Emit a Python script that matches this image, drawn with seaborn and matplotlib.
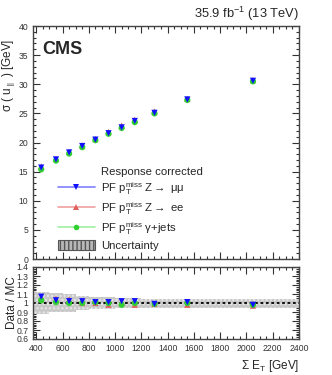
import numpy as np
import pandas as pd
import matplotlib
matplotlib.use("Agg")
import matplotlib.pyplot as plt
from matplotlib.lines import Line2D
from matplotlib.patches import Patch
from matplotlib.ticker import MultipleLocator, FormatStrFormatter
import seaborn as sns

# bin centres in sum E_T [GeV]
sum_et = [437.5, 550, 650, 750, 850, 950, 1050, 1150, 1300, 1550, 2050]

# sigma(u_par) [GeV]
sigma_mumu = [15.7, 17.1, 18.3, 19.4, 20.5, 21.6, 22.6, 23.7, 25.1, 27.4, 30.6]
sigma_ee = [15.9, 17.2, 18.4, 19.5, 20.6, 21.8, 22.9, 23.9, 25.3, 27.5, 30.7]
sigma_gjets = [15.4, 16.9, 18.1, 19.2, 20.4, 21.5, 22.5, 23.5, 25.0, 27.3, 30.5]

# data / MC
ratio_mumu = [1.07, 1.03, 1.02, 1.02, 1.01, 1.01, 1.02, 1.02, 0.99, 1.01, 0.98]
ratio_ee = [1.06, 1.05, 1.04, 1.00, 1.00, 0.98, 1.00, 0.98, 0.99, 0.98, 0.97]
ratio_gjets = [1.03, 1.01, 1.00, 1.00, 1.01, 1.00, 0.98, 1.00, 0.99, 1.00, 0.98]

# uncertainty band per bin
bin_lo = [375, 500, 600, 700, 800, 900, 1000, 1100, 1200, 1400, 1700]
bin_hi = [500, 600, 700, 800, 900, 1000, 1100, 1200, 1400, 1700, 2400]
unc_lo = [0.88, 0.90, 0.90, 0.92, 0.93, 0.93, 0.94, 0.94, 0.95, 0.95, 0.95]
unc_hi = [1.12, 1.11, 1.10, 1.08, 1.07, 1.07, 1.06, 1.06, 1.05, 1.05, 1.05]

colors = {"mumu": "#1010ff", "ee": "#e06060", "gjets": "#30d030"}
line_colors = {"mumu": "#8080ff", "ee": "#f0a0a0", "gjets": "#a0f0a0"}
markers = {"mumu": "v", "ee": "^", "gjets": "o"}

top = pd.DataFrame({
    "x": sum_et * 3,
    "y": sigma_ee + sigma_gjets + sigma_mumu,
    "s": ["ee"] * 11 + ["gjets"] * 11 + ["mumu"] * 11,
})
bot = pd.DataFrame({
    "x": sum_et * 3,
    "y": ratio_ee + ratio_gjets + ratio_mumu,
    "s": ["ee"] * 11 + ["gjets"] * 11 + ["mumu"] * 11,
})

sns.set_style("ticks")
plt.rcParams["font.family"] = ["Liberation Sans", "DejaVu Sans"]
plt.rcParams["mathtext.fontset"] = "custom"
plt.rcParams["mathtext.rm"] = "Liberation Sans"
plt.rcParams["mathtext.it"] = "Liberation Sans"
plt.rcParams["hatch.color"] = "#a0a0a0"

fig = plt.figure(figsize=(3.32, 3.75), dpi=100)
ax1 = fig.add_axes([0.0994, 0.3093, 0.801, 0.6213])
ax2 = fig.add_axes([0.0994, 0.096, 0.801, 0.192])

for ax, df in [(ax1, top), (ax2, bot)]:
    sns.scatterplot(data=df, x="x", y="y", hue="s", style="s",
                    palette=colors, markers=markers, s=20, linewidth=0,
                    legend=False, ax=ax, zorder=3)

# uncertainty band in ratio
widths = np.array(bin_hi) - np.array(bin_lo)
heights = np.array(unc_hi) - np.array(unc_lo)
ax2.bar(bin_lo, heights, width=widths, bottom=unc_lo, align="edge",
        color="#c8c8c8", edgecolor="#e8e8e8", hatch="....", linewidth=0.0, zorder=1)
ax2.axhline(1.0, color="black", linestyle=(0, (1.5, 1.5)), linewidth=1.3, zorder=2)

for ax in (ax1, ax2):
    ax.set_xlim(375, 2400)
    ax.xaxis.set_major_locator(MultipleLocator(200))
    ax.xaxis.set_minor_locator(MultipleLocator(50))
    ax.tick_params(which="both", direction="in", top=True, right=True,
                   labelsize=6.2, colors="#333333", width=0.8)
    ax.tick_params(which="major", length=5)
    ax.tick_params(which="minor", length=2.5)
    for sp in ax.spines.values():
        sp.set_linewidth(1.0)
        sp.set_color("#444444")
    ax.set_xlabel("")
    ax.set_ylabel("")

ax1.set_ylim(0, 40)
ax1.yaxis.set_major_locator(MultipleLocator(5))
ax1.yaxis.set_minor_locator(MultipleLocator(1))
ax1.tick_params(labelbottom=False)
ax1.set_ylabel(r"$\sigma$ ( u$_{\parallel}$ ) [GeV]", fontsize=8.5)

ax2.set_ylim(0.6, 1.4)
ax2.yaxis.set_major_locator(MultipleLocator(0.1))
ax2.yaxis.set_minor_locator(MultipleLocator(0.02))
ax2.yaxis.set_major_formatter(FormatStrFormatter("%g"))
ax2.set_ylabel("Data / MC", fontsize=8.5)
ax2.set_xlabel(r"$\Sigma$ E$_{\rm T}$ [GeV]", fontsize=8.5, loc="right", labelpad=4)

ax1.yaxis.set_label_coords(-0.058, 0.79)
ax2.yaxis.set_label_coords(-0.058, 0.5)

ax1.text(0.035, 0.935, "CMS", transform=ax1.transAxes, fontsize=13,
         fontweight="bold", va="top", ha="left")
ax1.text(1.0, 1.015, r"35.9 fb$^{-1}$ (13 TeV)", transform=ax1.transAxes,
         fontsize=9.3, ha="right", va="bottom")

handles = [
    Line2D([], [], linestyle="none"),
    Line2D([], [], color=line_colors["mumu"], marker="v", markersize=4,
           markerfacecolor=colors["mumu"], markeredgewidth=0, linewidth=1.2),
    Line2D([], [], color=line_colors["ee"], marker="^", markersize=4,
           markerfacecolor=colors["ee"], markeredgewidth=0, linewidth=1.2),
    Line2D([], [], color=line_colors["gjets"], marker="o", markersize=4,
           markerfacecolor=colors["gjets"], markeredgewidth=0, linewidth=1.2),
    Patch(facecolor="#b8b8b8", edgecolor="#555555", hatch="||||", linewidth=0.8),
]
texts = [
    "Response corrected",
    r"PF p$_{\rm T}^{\rm miss}$ Z$\rightarrow$ $\mu\mu$",
    r"PF p$_{\rm T}^{\rm miss}$ Z$\rightarrow$ ee",
    r"PF p$_{\rm T}^{\rm miss}$ $\gamma$+jets",
    "Uncertainty",
]
ax1.legend(handles, texts, loc="upper left", bbox_to_anchor=(0.065, 0.435),
           frameon=False, fontsize=8.2, handlelength=3.2, handleheight=1.0,
           handletextpad=0.55, labelspacing=0.28, borderpad=0.2)

fig.savefig("out.png", dpi=100)
